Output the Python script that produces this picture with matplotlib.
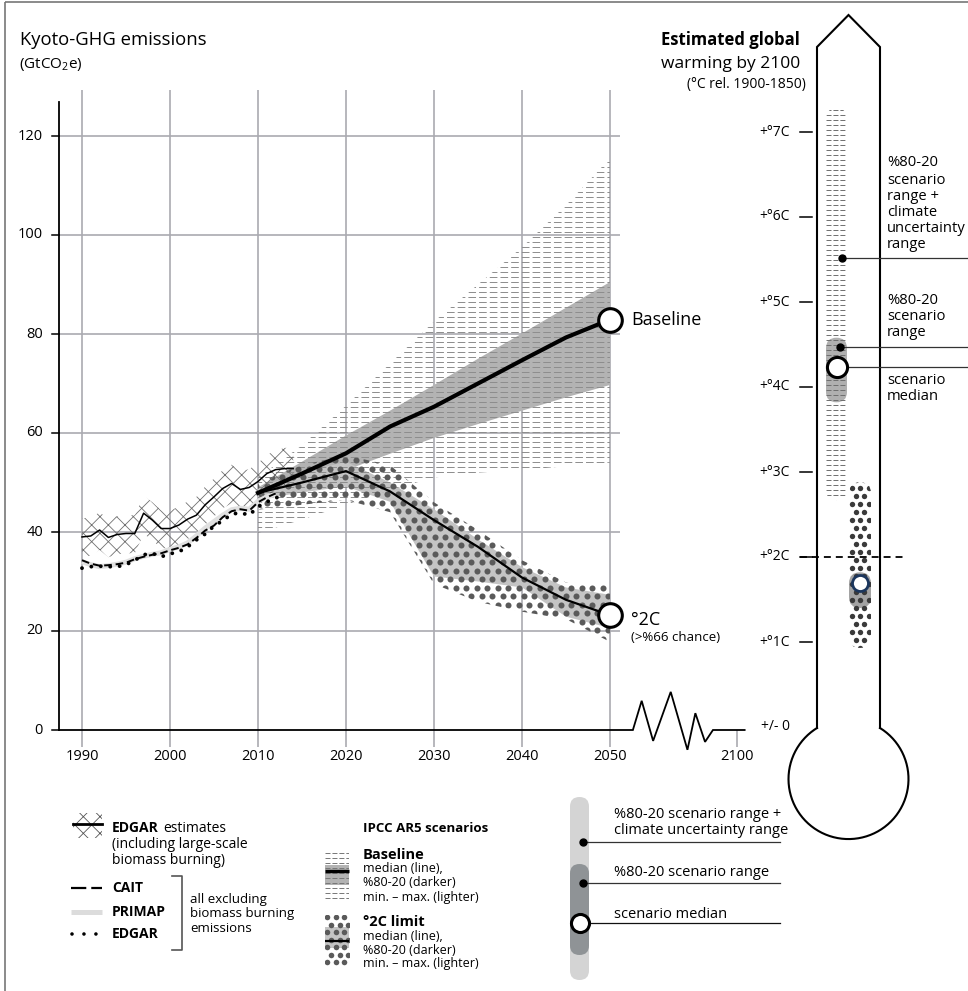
import numpy as np
import matplotlib
matplotlib.use("Agg")
import matplotlib.pyplot as plt
from matplotlib.patches import Polygon, FancyBboxPatch, Rectangle
from matplotlib.collections import LineCollection

plt.rcParams["font.family"] = ["Open Sans", "DejaVu Sans"]
plt.rcParams["mathtext.fontset"] = "custom"
plt.rcParams["mathtext.rm"] = "Open Sans"
plt.rcParams["lines.scale_dashes"] = False
plt.rcParams["hatch.linewidth"] = 0.6

# ---------------- historical emissions (GtCO2e) ----------------
hist_years = np.arange(1990, 2015)
edgar_incl_biomass = [39.0, 39.2, 40.4, 38.9, 39.5, 39.7, 39.7, 43.8, 42.4, 40.7,
                      40.7, 41.4, 42.6, 43.4, 45.5, 47.1, 48.8, 49.8, 48.6, 49.0,
                      50.2, 51.8, 52.6, 52.8, 52.8]
edgar_incl_hi = [42.8, 42.9, 44.0, 42.6, 43.2, 43.4, 43.4, 47.3, 46.0, 44.4,
                 44.4, 45.0, 46.2, 47.1, 49.2, 50.8, 52.5, 53.6, 52.3, 52.7,
                 53.9, 55.6, 56.4, 57.0, 57.0]
edgar_incl_lo = [35.0, 35.2, 36.4, 34.9, 35.5, 35.7, 35.7, 39.6, 38.4, 36.7,
                 36.7, 37.4, 38.6, 39.4, 41.5, 43.1, 44.8, 45.8, 44.6, 45.0,
                 46.2, 47.8, 48.6, 48.8, 48.8]

cait_years = np.arange(1990, 2013)
cait = [34.3, 33.6, 33.2, 33.3, 33.5, 33.8, 34.5, 35.0, 35.4, 35.7, 36.3, 36.8,
        37.5, 38.8, 40.3, 41.3, 43.0, 44.2, 44.6, 44.3, 46.0, 47.0, 47.8]

primap_years = np.arange(1990, 2013)
primap = [34.0, 33.4, 33.0, 33.2, 33.5, 33.9, 34.6, 35.1, 35.5, 35.8, 36.5, 37.0,
          37.8, 39.2, 40.8, 42.1, 43.4, 44.5, 44.8, 44.6, 46.2, 47.1, 47.6]

edgar_years = np.arange(1990, 2014)
edgar_excl = [32.7, 33.0, 33.1, 33.0, 33.0, 33.4, 34.3, 35.4, 35.7, 35.0, 35.6, 36.0,
              37.0, 38.4, 39.6, 41.2, 42.3, 43.6, 43.9, 43.4, 45.1, 46.1, 46.9, 47.3]

# ---------------- IPCC AR5 scenarios (GtCO2e) ----------------
scen_years = np.array([2010, 2015, 2020, 2025, 2030, 2035, 2040, 2045, 2050])
base_median = [47.9, 51.8, 55.9, 61.3, 65.3, 70.0, 74.7, 79.3, 82.9]
base_p80 = [49.0, 54.2, 59.5, 64.5, 69.7, 75.0, 80.1, 85.3, 90.5]
base_p20 = [46.5, 49.5, 52.5, 55.8, 59.0, 61.8, 64.5, 67.2, 69.7]
base_max = [51.0, 57.5, 65.5, 74.0, 82.5, 90.0, 97.5, 106.0, 115.5]
base_min = [39.8, 42.5, 45.5, 48.5, 51.0, 52.0, 52.5, 53.3, 54.0]

c2_median = [47.9, 50.0, 52.3, 48.2, 42.4, 37.0, 30.8, 26.3, 23.2]
c2_p80 = [49.0, 52.0, 54.2, 50.0, 44.6, 38.5, 32.9, 28.8, 27.3]
c2_p20 = [46.5, 48.0, 49.2, 46.1, 31.0, 30.0, 28.8, 22.9, 20.6]
c2_max = [50.0, 53.5, 55.5, 53.5, 46.0, 40.4, 34.3, 29.8, 29.3]
c2_min = [44.5, 45.5, 46.5, 44.0, 29.5, 25.9, 23.9, 22.4, 17.8]

# ---------------- warming by 2100 (deg C) ----------------
warm_base_full = (2.67, 7.28)     # 80-20 range + climate uncertainty
warm_base_p = (3.82, 4.58)        # 80-20 scenario range
warm_base_median = 4.24
warm_c2_full = (0.93, 2.88)
warm_c2_p = (1.40, 1.82)
warm_c2_median = 1.69
warm_limit = 2.0

decade_ticks = [1990, 2000, 2010, 2020, 2030, 2040, 2050]
far_tick = 2100
value_ticks = [0, 20, 40, 60, 80, 100, 120]
deg_ticks = [1, 2, 3, 4, 5, 6, 7]

# ---------------- layout helpers ----------------
W, H = 968, 991
fig = plt.figure(figsize=(W / 100, H / 100), dpi=100)

# full-figure overlay in pixel units (y downwards) for frame, legend, thermometer outline
ov = fig.add_axes([0, 0, 1, 1])
ov.set_xlim(0, W)
ov.set_ylim(H, 0)
ov.axis("off")

GRID = "#aaaab0"
AX_L, AX_R, AX_T, AX_B = 59, 760, 90, 747
X1990, PX_YR = 82, 8.8
Y0, PX_GT = 730, 4.95
XL = (1990 - (X1990 - AX_L) / PX_YR, 1990 + (AX_R - X1990) / PX_YR)
YL = (-(AX_B - Y0) / PX_GT, (Y0 - AX_T) / PX_GT)
BREAK = 0.2886  # compression of the axis beyond 2050


def xpos(year):
    return year if year <= 2050 else 2050 + (year - 2050) * BREAK


ax = fig.add_axes([AX_L / W, 1 - AX_B / H, (AX_R - AX_L) / W, (AX_B - AX_T) / H])
ax.patch.set_visible(False)
ax.axis("off")


def band(axis, xs, lo, hi, **kw):
    xs = np.asarray(xs, float)
    verts = np.column_stack([np.r_[xs, xs[::-1]], np.r_[hi, np.asarray(lo)[::-1]]])
    p = Polygon(verts, closed=True, **kw)
    axis.add_patch(p)
    return p


def dash_rows(axis, clip, x0, x1, y0, y1, step, color, lw, dashes, z):
    segs = [[(x0, y), (x1, y)] for y in np.arange(y0, y1, step)]
    lc = LineCollection(segs, colors=color, linewidths=lw,
                        linestyles=[(0, dashes)], zorder=z)
    axis.add_collection(lc)
    lc.set_clip_path(clip)
    return lc


def dot_grid(axis, clip, x0, x1, y0, y1, dx, dy, size, color, z):
    pts = []
    for i, y in enumerate(np.arange(y0, y1, dy)):
        off = dx / 2 if i % 2 else 0
        for x in np.arange(x0 + off, x1, dx):
            pts.append((x, y))
    pts = np.array(pts)
    sc = axis.scatter(pts[:, 0], pts[:, 1], s=size, c=color, linewidths=0, zorder=z)
    sc.set_clip_path(clip)
    return sc


# ---------------- emissions panel ----------------
ax.vlines(decade_ticks, YL[0], YL[1], color=GRID, lw=1.2, zorder=0)
ax.hlines(value_ticks[1:], XL[0], 2051.1, color=GRID, lw=1.2, zorder=0)
ax.vlines([xpos(far_tick)], YL[0], 0, color=GRID, lw=1.2, zorder=0)

# y axis
ax.plot([XL[0], XL[0]], [0, (Y0 - 102) / PX_GT], color="black", lw=1.3,
        clip_on=False, zorder=12)
for v in value_ticks:
    ax.plot([XL[0] - 7 / PX_YR, XL[0]], [v, v], color="black", lw=1.1,
            clip_on=False, zorder=12)
    ax.text(XL[0] - 16 / PX_YR, v, str(v), ha="right", va="center", fontsize=10.5)
for yr in decade_ticks + [far_tick]:
    ax.text(xpos(yr), -27 / PX_GT, str(yr), ha="center", va="center", fontsize=10.5)

# zero line with axis break
zig_x = [2052.6, 2053.6, 2054.9, 2056.9, 2058.8, 2059.7, 2060.8, 2061.7, 2065.3]
zig_y = [0, 5.9, -2.2, 7.7, -4.0, 3.4, -2.4, 0, 0]
ax.plot([XL[0]] + zig_x, [0] + zig_y, color="black", lw=1.3, clip_on=False,
        zorder=12, solid_joinstyle="miter")

# baseline scenario ranges
base_clip = band(ax, scen_years, base_min, base_max, fc="none", ec="none")
band(ax, scen_years, base_p20, base_p80, fc="#b3b3b3", ec="none", zorder=2)
# 2C scenario ranges
c2_clip = band(ax, scen_years, c2_min, c2_max, fc="none", ec="none")
band(ax, scen_years, c2_p20, c2_p80, fc="#c4c4c4", ec="none", zorder=3)

dash_rows(ax, base_clip, 2009.6, 2050.4, 36, 120, 5 / PX_GT, "#8c8c8c", 0.7,
          (5.5, 2.2), 4)
dot_grid(ax, c2_clip, 2009.8, 2050.5, 15, 58, 10.5 / PX_YR, 8.5 / PX_GT, 19,
         "#5a5a5a", 5)

# historical
ax.fill_between(hist_years, edgar_incl_lo, edgar_incl_hi, facecolor="none",
                edgecolor="#707070", hatch="xx", lw=0, zorder=6)
ax.plot(primap_years, primap, color="#e0e0e0", lw=3.6, zorder=7,
        solid_capstyle="butt")
ax.plot(cait_years, cait, color="black", lw=1.4, dashes=(5.5, 2.8), zorder=8)
ax.plot(edgar_years, edgar_excl, color="black", lw=2.8, dashes=(0.01, 6.8),
        dash_capstyle="round", zorder=8)
ax.plot(hist_years, edgar_incl_biomass, color="black", lw=1.1, zorder=9)

# scenario medians
ax.plot(scen_years, base_median, color="black", lw=3.0, zorder=10,
        solid_joinstyle="round")
ax.plot(scen_years, c2_median, color="black", lw=1.6, zorder=10)
ax.plot([2050], [base_median[-1]], "o", ms=17, mfc="white", mec="black",
        mew=2.2, zorder=11)
ax.plot([2050], [c2_median[-1]], "o", ms=17, mfc="white", mec="black",
        mew=2.2, zorder=11)
ax.text(2050 + 21 / PX_YR, base_median[-1], "Baseline", ha="left", va="center",
        fontsize=13)
ax.text(2050 + 21 / PX_YR, c2_median[-1] - 1.0, "°2C", ha="left", va="center",
        fontsize=13)
ax.text(2050 + 21 / PX_YR, c2_median[-1] - 4.6, "(>%66 chance)", ha="left",
        va="center", fontsize=9.5)

ax.set_xlim(*XL)
ax.set_ylim(*YL)

# ---------------- titles ----------------
ov.text(20, 45, "Kyoto-GHG emissions", fontsize=13.3, va="baseline")
ov.text(19, 68, r"(GtCO$_\mathregular{2}$e)", fontsize=11, va="baseline")
ov.text(800, 45, "Estimated global", fontsize=12, fontweight="bold",
        ha="right", va="baseline")
ov.text(800, 68, "warming by 2100", fontsize=12.5, ha="right", va="baseline")
ov.text(806, 88, "(°C rel. 1900-1850)", fontsize=10, ha="right", va="baseline")

# frame
ov.add_patch(Rectangle((5, 1.5), W, H, fill=False, ec="#777777", lw=1.2))

# ---------------- thermometer ----------------
cx, half, r = 848.5, 31.5, 60
join_y = 728
cy = join_y + np.sqrt(r ** 2 - half ** 2)
a0 = np.degrees(np.arctan2(join_y - cy, half))          # right junction angle
th = np.radians(np.linspace(a0, 180 - a0, 300))        # sweep through the bottom
ov.plot(np.r_[cx - half, cx - half, cx, cx + half, cx + half],
        [join_y, 47, 15, 47, join_y], color="black", lw=1.5, solid_joinstyle="miter")
ov.plot(cx + r * np.cos(th), cy + r * np.sin(th), color="black", lw=1.5)

T0, PX_DEG = 727, 85
axt = fig.add_axes([0, 0, 1, 1])
axt.patch.set_visible(False)
axt.axis("off")
axt.set_xlim(0, W)
axt.set_ylim((T0 - H) / PX_DEG, T0 / PX_DEG)


def tbar(x0, width, lo, hi, **kw):
    p = FancyBboxPatch((x0, lo), width, hi - lo,
                       boxstyle="round,pad=0,rounding_size=%g" % (width / 2),
                       mutation_aspect=1 / PX_DEG, **kw)
    axt.add_patch(p)
    return p


bx, bw = 826, 21
base_full = tbar(bx, bw, *warm_base_full, fc="none", ec="none")
tbar(bx, bw, *warm_base_p, fc="#b0b0b0", ec="none", zorder=2)
dash_rows(axt, base_full, bx, bx + bw, warm_base_full[0], warm_base_full[1],
          5 / PX_DEG, "#6e6e6e", 0.7, (3.6, 1.4), 3)
axt.plot([bx + bw / 2], [warm_base_median], "o", ms=14.5, mfc="white",
         mec="black", mew=2.2, zorder=6)

cx2, cw = 849, 22
c2_full = tbar(cx2, cw, *warm_c2_full, fc="none", ec="none")
tbar(cx2, cw, *warm_c2_p, fc="#a3a3a3", ec="none", zorder=2)
dot_grid(axt, c2_full, cx2 + 2.5, cx2 + cw, warm_c2_full[0], warm_c2_full[1] + 0.1,
         8.5, 8 / PX_DEG, 15, "#3a3a3a", 3)
axt.plot([cx2 + cw / 2], [warm_c2_median], "o", ms=11.5, mfc="white",
         mec="#1b365d", mew=2.0, zorder=6)

axt.plot([800, 907], [warm_limit, warm_limit], color="black", lw=1.3,
         dashes=(5, 3.6), zorder=5)

for d in deg_ticks:
    axt.plot([800, 812], [d, d], color="black", lw=1.1)
    axt.text(790, d, "+°%dC" % d, ha="right", va="center", fontsize=10)
axt.text(790, 0, "+/- 0", ha="right", va="center", fontsize=10)

# annotation pointers for the baseline bar
ann_full, ann_p = 5.52, 4.47
axt.plot([842, W], [ann_full, ann_full], color="#333333", lw=0.9, zorder=7)
axt.plot([842], [ann_full], "o", ms=5, color="black", zorder=8)
axt.plot([840, W], [ann_p, ann_p], color="#333333", lw=0.9, zorder=7)
axt.plot([840], [ann_p], "o", ms=5, color="black", zorder=8)
axt.plot([846, W], [warm_base_median, warm_base_median], color="#333333",
         lw=0.9, zorder=5)

for txt, yy in [("%80-20", 163), ("scenario", 180), ("range +", 196),
                ("climate", 212), ("uncertainty", 228), ("range", 244),
                ("%80-20", 300), ("scenario", 317), ("range", 333),
                ("scenario", 381), ("median", 396)]:
    ov.text(887, yy, txt, fontsize=10.6, va="center", ha="left")

# ---------------- legend (left) ----------------
ov.add_patch(Rectangle((73, 813), 29, 25, fill=False, hatch="xx",
                       ec="#555555", lw=0))
ov.plot([73, 102], [824, 824], color="black", lw=2)
t_edgar = ov.text(112, 828, "EDGAR", fontsize=10, fontweight="bold", va="center")
fig.canvas.draw()
bb = t_edgar.get_window_extent()
x_after = ov.transData.inverted().transform((bb.x1, bb.y0))[0]
ov.text(x_after + 4, 828, "estimates", fontsize=10, va="center")
ov.text(112, 844, "(including large-scale", fontsize=10, va="center")
ov.text(112, 860, "biomass burning)", fontsize=10, va="center")

ov.plot([71, 102], [888, 888], color="black", lw=1.6, dashes=(11, 3.6))
ov.plot([71, 102], [912, 912], color="#dcdcdc", lw=3.6, solid_capstyle="butt")
ov.plot([72, 97], [934, 934], color="black", lw=2.6, dashes=(0.01, 8.6),
        dash_capstyle="round")
ov.text(112, 888, "CAIT", fontsize=10, fontweight="bold", va="center")
ov.text(112, 912, "PRIMAP", fontsize=10, fontweight="bold", va="center")
ov.text(112, 934, "EDGAR", fontsize=10, fontweight="bold", va="center")
ov.plot([172, 182, 182, 172], [876, 876, 950, 950], color="#555555", lw=1.2)
ov.text(190, 899, "all excluding", fontsize=9.5, va="center")
ov.text(190, 914, "biomass burning", fontsize=9.5, va="center")
ov.text(190, 929, "emissions", fontsize=9.5, va="center")

ov.text(363, 828, "IPCC AR5 scenarios", fontsize=9.5, fontweight="bold",
        va="center")
icon_b = Rectangle((325, 852), 24, 50, fc="none", ec="none")
ov.add_patch(icon_b)
ov.add_patch(Rectangle((325, 865), 24, 20, fc="#b3b3b3", ec="none"))
dash_rows(ov, icon_b, 325, 349, 853, 902, 5, "#777777", 0.7, (3.6, 1.4), 3)
ov.plot([325, 349], [871, 871], color="black", lw=2.4, solid_capstyle="butt",
        zorder=4)
ov.text(363, 855, "Baseline", fontsize=10.5, fontweight="bold", va="center")
ov.text(363, 869, "median (line),", fontsize=9, va="center")
ov.text(363, 883, "%80-20 (darker)", fontsize=9, va="center")
ov.text(363, 897, "min. \u2013 max. (lighter)", fontsize=9, va="center")

icon_c = Rectangle((325, 915), 24, 50, fc="none", ec="none")
ov.add_patch(icon_c)
ov.add_patch(Rectangle((325, 927), 24, 21, fc="#c4c4c4", ec="none"))
dot_grid(ov, icon_c, 327, 349, 917, 965, 8.5, 7.5, 16, "#5a5a5a", 3)
ov.plot([325, 349], [941, 941], color="black", lw=1.6, solid_capstyle="butt",
        zorder=4)
ov.text(363, 922, "°2C limit", fontsize=10.5, fontweight="bold", va="center")
ov.text(363, 937, "median (line),", fontsize=9, va="center")
ov.text(363, 950, "%80-20 (darker)", fontsize=9, va="center")
ov.text(363, 963, "min. \u2013 max. (lighter)", fontsize=9, va="center")

# ---------------- legend (right) ----------------
ov.add_patch(FancyBboxPatch((570, 797), 19, 183,
                            boxstyle="round,pad=0,rounding_size=9.5",
                            fc="#d4d4d4", ec="none"))
ov.add_patch(FancyBboxPatch((570, 864), 19, 91,
                            boxstyle="round,pad=0,rounding_size=9.5",
                            fc="#8f9396", ec="none"))
for yy in (842, 883):
    ov.plot([583, 780], [yy, yy], color="#333333", lw=0.9)
    ov.plot([583], [yy], "o", ms=5, color="black")
ov.plot([588, 780], [923, 923], color="#111111", lw=0.9)
ov.plot([579.5], [923], "o", ms=13, mfc="white", mec="black", mew=2.2)
ov.text(614, 815, "%80-20 scenario range +", fontsize=10.5, va="center")
ov.text(614, 831, "climate uncertainty range", fontsize=10.5, va="center")
ov.text(614, 873, "%80-20 scenario range", fontsize=10.5, va="center")
ov.text(614, 914, "scenario median", fontsize=10.5, va="center")

fig.savefig("out.png", dpi=100)
